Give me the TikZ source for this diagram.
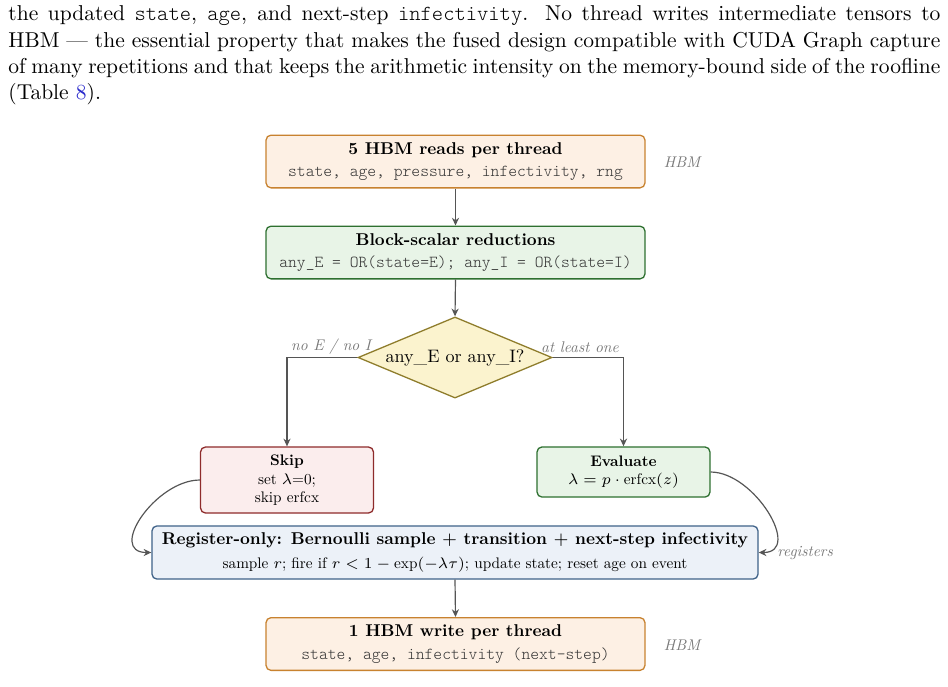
\RequirePackage{fix-cm}
\documentclass[tikz,border=0pt]{standalone}
\usepackage{fontspec}
\setmainfont{lmroman10-regular.otf}[BoldFont=lmroman10-bold.otf, ItalicFont=lmroman10-italic.otf, BoldItalicFont=lmroman10-bolditalic.otf, Ligatures=TeX]
\setmonofont{lmmonolt10-regular.otf}
\usetikzlibrary{shapes.geometric,arrows.meta}
\definecolor{orFill}{HTML}{FDF0E4}
\definecolor{orBorder}{HTML}{C8822F}
\definecolor{grFill}{HTML}{E8F4E7}
\definecolor{grBorder}{HTML}{2E7030}
\definecolor{ylFill}{HTML}{FBF3CE}
\definecolor{ylBorder}{HTML}{8F7D2C}
\definecolor{rdFill}{HTML}{FBEDED}
\definecolor{rdBorder}{HTML}{8E2B2B}
\definecolor{blFill}{HTML}{ECF1F8}
\definecolor{blBorder}{HTML}{3F6288}
\definecolor{arrGray}{HTML}{555555}
\definecolor{labGray}{HTML}{7A7A7A}
\definecolor{monoGray}{HTML}{333333}
\definecolor{linkblue}{HTML}{2A2ACC}
\tikzset{
  box/.style={draw, rounded corners=2.3pt, line width=0.6pt, inner sep=0pt, align=center},
  widebox/.style={box, minimum width=176.2pt, minimum height=24.5pt, font=\fontsize{7.95}{9.9}\selectfont},
  orbox/.style={widebox, draw=orBorder, fill=orFill},
  grbox/.style={widebox, draw=grBorder, fill=grFill},
  smallbox/.style={box, minimum width=80.4pt, font=\fontsize{7.1}{8.3}\selectfont},
  decision/.style={shape=diamond, draw=ylBorder, fill=ylFill, line width=0.6pt, inner sep=0pt,
    aspect=2.39, minimum width=90.2pt, minimum height=37.7pt, font=\fontsize{8.4}{10}\selectfont},
  arr/.style={draw=arrGray, line width=0.55pt, -{Stealth[length=3.6pt,width=3.3pt]}},
  lab/.style={font=\fontsize{7.2}{8.6}\selectfont\itshape, text=labGray, inner sep=0pt}
}
\newcommand{\monoline}[1]{{\fontsize{7.8}{9.9}\selectfont\ttfamily\color{monoGray}#1}}
\begin{document}
\begin{tikzpicture}[x=0.465pt, y=-0.465pt]
\useasboundingbox (0,0) rectangle (948,686);
\fill[white] (0,0) rectangle (948,686);

\node[anchor=base west, inner sep=0pt, text width=433.4pt, align=justify,
      font=\fontsize{10}{12.28}\selectfont] (para) at (8,20.7)
{the updated \texttt{state}, \texttt{age}, and next-step \texttt{infectivity}. No thread writes intermediate tensors to\linebreak
HBM \textemdash{} the essential property that makes the fused design compatible with CUDA Graph capture\linebreak
of many repetitions and that keeps the arithmetic intensity on the memory-bound side of the roofline\linebreak
(Table \textcolor{linkblue}{8}).};

\node[orbox] (reads) at (455.5,161.5)
  {{\bfseries 5 HBM reads per thread}\\[0.6pt]\monoline{state, age, pressure, infectivity, rng}};
\node[lab] (hbmA) at (682,162) {HBM};

\node[grbox] (block) at (455.5,252.5)
  {{\bfseries Block-scalar reductions}\\[0.6pt]\monoline{any\_E = OR(state=E); any\_I = OR(state=I)}};

\node[decision] (dec) at (455,357.5) {any\_E or any\_I?};

\node[smallbox, draw=rdBorder, fill=rdFill, minimum height=30.7pt] (skip) at (287,480)
  {{\bfseries Skip}\\[0.9pt]set $\lambda$=0;\\skip erfcx};
\node[smallbox, draw=grBorder, fill=grFill, minimum height=23.3pt] (eval) at (623.5,472)
  {{\bfseries Evaluate}\\[0.4pt]$\lambda = p\cdot\mathrm{erfcx}(z)$};

\node[box, draw=blBorder, fill=blFill, minimum width=281.8pt, minimum height=24.7pt] (reg) at (455,552.5)
  {{\fontsize{7.95}{9.9}\selectfont\bfseries Register-only: Bernoulli sample $+$ transition $+$ next-step infectivity}\\[-1.2pt]
   {\fontsize{7.1}{8.6}\selectfont sample $r$; fire if $r<1-\exp(-\lambda\tau)$; update state; reset age on event}};

\node[orbox] (write) at (455.5,644)
  {{\bfseries 1 HBM write per thread}\\[0.6pt]\monoline{state, age, infectivity (next-step)}};
\node[lab] (hbmB) at (682,645) {HBM};

\node[lab] (noEI) at (331,347) {no E / no I};
\node[lab] (atleast) at (580,347) {at least one};
\node[lab, anchor=west] (regs) at (777,553) {registers};

\draw[arr] (reads.south) -- (block.north);
\draw[arr] (block.south) -- (dec.north);
\draw[arr] (dec.west) -| (skip.north);
\draw[arr] (dec.east) -| (eval.north);
\draw[arr] (skip.west) to[out=180,in=180,looseness=1.3] (reg.west);
\draw[arr] (eval.east) to[out=0,in=0,looseness=1.2] (reg.east);
\draw[arr] (reg.south) -- (write.north);
\end{tikzpicture}
\end{document}
